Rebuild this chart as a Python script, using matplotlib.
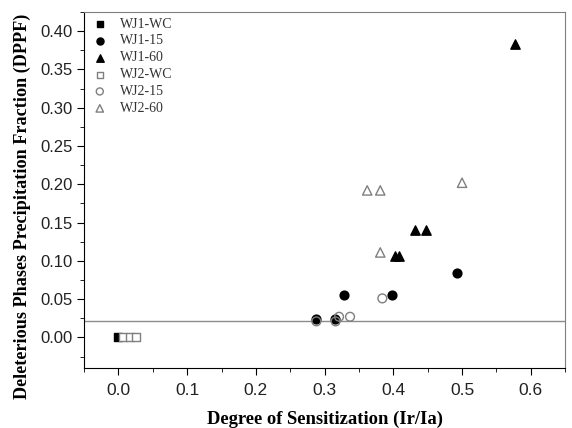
import matplotlib
matplotlib.use("Agg")
import matplotlib.pyplot as plt
from matplotlib.ticker import MultipleLocator, FormatStrFormatter

wj1_wc_x = [0.0]
wj1_wc_y = [0.0]
wj1_15_x = [0.288, 0.315, 0.328, 0.398, 0.492]
wj1_15_y = [0.024, 0.024, 0.055, 0.055, 0.084]
wj1_60_x = [0.402, 0.408, 0.431, 0.447, 0.577]
wj1_60_y = [0.106, 0.106, 0.140, 0.140, 0.383]
wj2_wc_x = [0.006, 0.017, 0.026]
wj2_wc_y = [0.0, 0.0, 0.0]
wj2_15_x = [0.288, 0.316, 0.321, 0.337, 0.384]
wj2_15_y = [0.021, 0.021, 0.027, 0.027, 0.051]
wj2_60_x = [0.362, 0.381, 0.381, 0.500]
wj2_60_y = [0.192, 0.192, 0.111, 0.202]
threshold = 0.022

fig = plt.figure(figsize=(5.72, 4.28), dpi=100)
ax = fig.add_axes([0.147, 0.140, 0.841, 0.832])

gray = "#7f7f7f"
ax.scatter(wj1_wc_x, wj1_wc_y, marker="s", s=30, c="black", label="WJ1-WC", zorder=3)
ax.scatter(wj1_15_x, wj1_15_y, marker="o", s=40, c="black", label="WJ1-15", zorder=3)
ax.scatter(wj1_60_x, wj1_60_y, marker="^", s=45, c="black", label="WJ1-60", zorder=3)
ax.scatter(wj2_wc_x, wj2_wc_y, marker="s", s=30, facecolors="white", edgecolors=gray, linewidths=1, label="WJ2-WC", zorder=3)
ax.scatter(wj2_15_x, wj2_15_y, marker="o", s=40, facecolors="none", edgecolors=gray, linewidths=1, label="WJ2-15", zorder=3)
ax.scatter(wj2_60_x, wj2_60_y, marker="^", s=45, facecolors="none", edgecolors=gray, linewidths=1, label="WJ2-60", zorder=3)
ax.axhline(threshold, color="#8c8c8c", lw=1, zorder=1)

ax.set_xlim(-0.05, 0.65)
ax.set_ylim(-0.04, 0.425)
ax.xaxis.set_major_locator(MultipleLocator(0.1))
ax.xaxis.set_minor_locator(MultipleLocator(0.05))
ax.yaxis.set_major_locator(MultipleLocator(0.05))
ax.yaxis.set_minor_locator(MultipleLocator(0.025))
ax.xaxis.set_major_formatter(FormatStrFormatter("%.1f"))
ax.yaxis.set_major_formatter(FormatStrFormatter("%.2f"))
ax.tick_params(which="both", direction="out", top=False, right=False)
ax.tick_params(axis="x", labelsize=12.5, pad=6)
ax.tick_params(axis="y", labelsize=12)
ax.tick_params(which="major", length=5)
ax.tick_params(which="minor", length=3)
for lab in ax.get_xticklabels() + ax.get_yticklabels():
    lab.set_fontfamily("Liberation Sans")
    lab.set_color("#222222")
ax.spines["top"].set_color(gray)
ax.spines["right"].set_color(gray)

ax.set_xlabel("Degree of Sensitization (Ir/Ia)", fontfamily="Liberation Serif", fontweight="bold", fontsize=13.4, labelpad=9)
ax.set_ylabel("Deleterious Phases Precipitation Fraction (DPPF)", fontfamily="Liberation Serif", fontweight="bold", fontsize=13.1)
ax.yaxis.set_label_coords(-0.11, 0.455)

leg = ax.legend(loc="upper left", frameon=False, prop={"family": "Liberation Serif", "size": 10},
                handletextpad=0.65, labelspacing=0.28, borderaxespad=0.0, handlelength=1.6,
                markerscale=0.8, bbox_to_anchor=(-0.002, 1.0))
for t in leg.get_texts():
    t.set_color("#333333")

fig.savefig("out.png", dpi=100)
